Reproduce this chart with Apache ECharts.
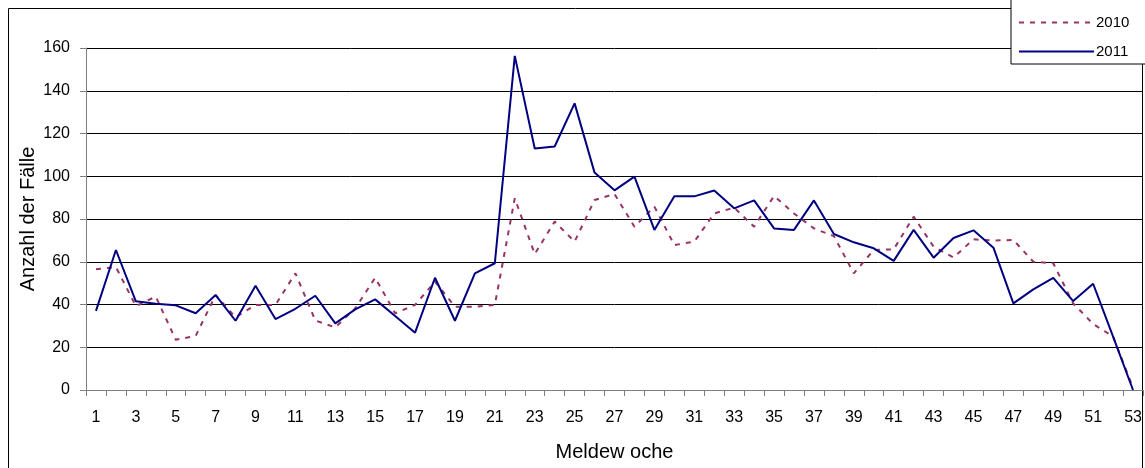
<!DOCTYPE html>
<html>
<head>
<meta charset="utf-8">
<script src="https://cdn.jsdelivr.net/npm/echarts@6/dist/echarts.min.js"></script>
<style>
html,body{margin:0;padding:0;background:#fff;}
#chart{width:1145px;height:468px;}
</style>
</head>
<body>
<div id="chart"></div>
<script>
const weeks = Array.from({length: 53}, (_, i) => String(i + 1));
const values2010 = [56.5, 57.5, 39.3, 43.7, 23.5, 25.3, 44.4, 34, 39.8, 39.8, 54.6, 32.5, 29.3, 38.2, 52.5, 35.9, 39.8, 50.7, 39, 39, 39.8, 89.7, 63.6, 78.8, 69.4, 88.9, 91.7, 76.4, 85.8, 67.8, 69.4, 82.6, 85.3, 76.4, 90.8, 82.6, 75.6, 72, 54.6, 65.5, 65.8, 81.1, 67, 62, 70.5, 69.9, 70.2, 60, 59.3, 40.5, 30.9, 25, 1];
const values2011 = [37, 65.5, 41.5, 40.4, 39.6, 35.9, 44.4, 32.4, 48.8, 33.2, 38, 44.1, 31.2, 37.7, 42.4, 34.6, 26.8, 52.5, 32.4, 54.6, 59.3, 156.3, 113, 113.9, 134.1, 101.7, 93.4, 99.8, 74.9, 90.6, 90.6, 93.3, 85, 88.7, 75.6, 74.9, 88.7, 73, 69.1, 66.3, 60.4, 74.9, 61.9, 71.1, 74.7, 66.6, 40.5, 47.1, 52.5, 41.6, 49.7, 25, 0];
const seriesNames = ['2010', '2011'];
const yAxisName = 'Anzahl der Fälle';
const xAxisName = 'Meldew oche';

const chart = echarts.init(document.getElementById('chart'), null, {renderer: 'canvas'});
const font = 'Liberation Sans, Arial, sans-serif';
chart.setOption({
  animation: false,
  backgroundColor: '#fff',
  textStyle: {fontFamily: font},
  graphic: [{
    type: 'rect', z: -10, silent: true,
    shape: {x: 8.5, y: 8.5, width: 1134, height: 470},
    style: {fill: '#fff', stroke: '#000', lineWidth: 1}
  }],
  grid: {left: 86, right: 2, top: 48, bottom: 78, containLabel: false},
  legend: {
    orient: 'vertical',
    left: 1011, top: -6,
    padding: [21, 40, 5, 7],
    backgroundColor: '#fff',
    borderColor: '#000', borderWidth: 1,
    itemWidth: 75, itemHeight: 14, itemGap: 14,
    itemStyle: {opacity: 0},
    textStyle: {fontSize: 15, color: '#000', fontFamily: font, padding: [0, 0, 0, -3]},
    data: seriesNames
  },
  xAxis: {
    type: 'category',
    data: weeks,
    boundaryGap: true,
    name: xAxisName,
    nameLocation: 'middle',
    nameGap: 52,
    nameMoveOverlap: false,
    nameTextStyle: {fontSize: 20, color: '#000', fontFamily: font},
    axisLine: {lineStyle: {color: '#808080', width: 1}},
    axisTick: {show: true, interval: 0, length: 6, lineStyle: {color: '#808080'}},
    axisLabel: {interval: 1, fontSize: 16, color: '#000', margin: 20, fontFamily: font},
    splitLine: {show: false}
  },
  yAxis: {
    type: 'value',
    min: 0, max: 160, interval: 20,
    name: yAxisName,
    nameLocation: 'middle',
    nameGap: 48,
    nameMoveOverlap: false,
    nameTextStyle: {fontSize: 20, color: '#000', fontFamily: font},
    axisLine: {show: true, lineStyle: {color: '#808080', width: 1}},
    axisTick: {show: true, length: 6, lineStyle: {color: '#808080'}},
    axisLabel: {fontSize: 16, color: '#000', margin: 16, fontFamily: font},
    splitLine: {show: true, lineStyle: {color: '#000', width: 1}}
  },
  series: [
    {
      name: seriesNames[0], type: 'line', data: values2010,
      symbol: 'none', showSymbol: false,
      lineStyle: {color: '#993366', width: 2, type: [5, 6]},
      itemStyle: {color: '#993366'},
      z: 2
    },
    {
      name: seriesNames[1], type: 'line', data: values2011,
      symbol: 'none', showSymbol: false,
      lineStyle: {color: '#000080', width: 2},
      itemStyle: {color: '#000080'},
      z: 3
    }
  ]
});
</script>
</body>
</html>
